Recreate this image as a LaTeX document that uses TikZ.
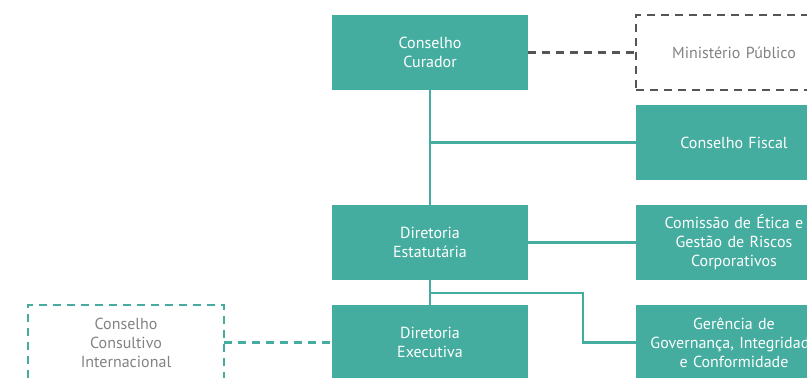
\documentclass[tikz,border=0pt]{standalone}
\usepackage{fontspec}
\setmainfont{PT Sans}
\usepackage{tikz}
\usetikzlibrary{positioning,calc}
\definecolor{teal}{RGB}{69,173,159}
\definecolor{dashgray}{RGB}{85,85,85}
\definecolor{textgray}{RGB}{130,130,130}

\begin{document}
\begin{tikzpicture}[
      node distance=81pt,
      block/.style={rectangle, fill=teal, text=white, text width=145pt, align=center, minimum width=147pt, minimum height=56.25pt, inner sep=0pt, outer sep=0pt, font=\fontsize{12}{14.25}\selectfont},
      dashblock/.style={block, fill=none, draw=dashgray, text=textgray, line width=1.9pt, dash pattern=on 6pt off 4.5pt},
      dashteal/.style={dashblock, draw=teal},
      link/.style={draw=teal, line width=1.9pt},
      dashlink/.style={link, dash pattern=on 6pt off 4.5pt}
    ]
    \useasboundingbox (0,0) rectangle (605.25pt,-283.5pt);
    \clip (0,0) rectangle (605.25pt,-283.5pt);

    % Main column
    \node[block, anchor=north west] (curador) at (249pt,-11.25pt) {Conselho\\Curador};
    \node[block, below=86.25pt of curador] (estatutaria) {Diretoria\\Estatutária};
    \node[block, below=18.75pt of estatutaria] (executiva) {Diretoria\\Executiva};

    % Right column
    \node[dashblock, right=of curador] (ministerio) {Ministério Público};
    \node[block, below=11.25pt of ministerio] (fiscal) {Conselho Fiscal};
    \node[block, right=of estatutaria] (comissao) {Comissão de Ética e\\Gestão de Riscos\\Corporativos};
    \node[block, right=of executiva] (gerencia) {Gerência de\\Governança, Integridade\\e Conformidade};

    % Left column
    \node[dashteal, left=of executiva] (consultivo) {Conselho\\Consultivo\\Internacional};

    % Connections
    \draw[link, draw=dashgray, dash pattern=on 6pt off 4.5pt] (curador.east) -- (ministerio.west);
    \draw[link] (curador.south) -- (estatutaria.north);
    \draw[link] (curador.south |- fiscal.west) -- (fiscal.west);
    \draw[link] (estatutaria.east) -- (comissao.west);
    \draw[link] (estatutaria.south) -- (executiva.north);
    \draw[link] ($(estatutaria.south)+(0,-9.75pt)$) -| ($(gerencia.west)+(-39.75pt,0)$) -- (gerencia.west);
    \draw[dashlink] (consultivo.east) -- (executiva.west);
\end{tikzpicture}
\end{document}
